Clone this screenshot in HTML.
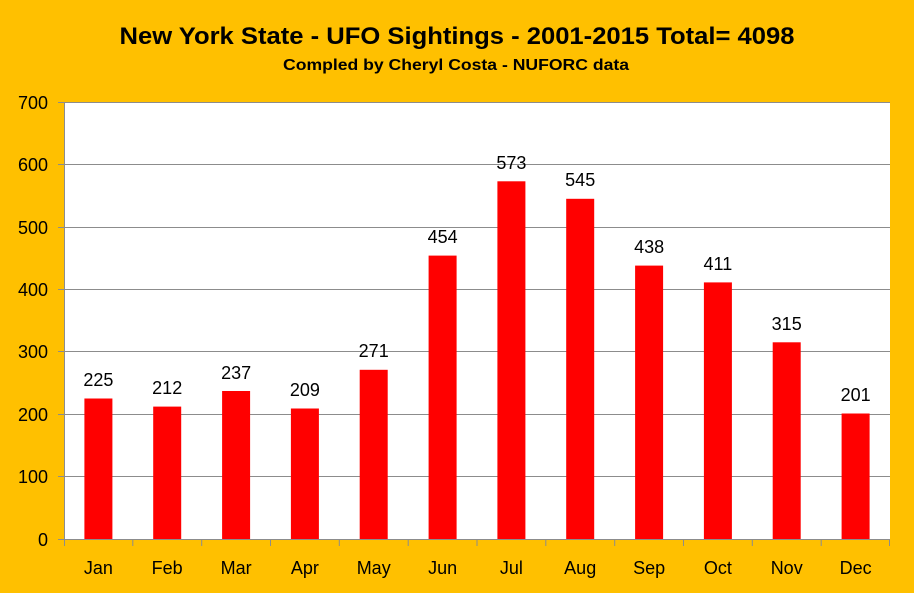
<!DOCTYPE html>
<html><head><style>html,body{margin:0;padding:0;background:#FFC000;}svg{display:block}</style></head>
<body>
<svg width="914" height="593" xmlns="http://www.w3.org/2000/svg" font-family="'Liberation Sans', sans-serif">
<rect width="914" height="593" fill="#FFC000"/>
<text x="457" y="44" text-anchor="middle" font-size="24" font-weight="bold" textLength="675" lengthAdjust="spacingAndGlyphs">New York State - UFO Sightings - 2001-2015  Total= 4098</text>
<text x="456" y="70" text-anchor="middle" font-size="16" font-weight="bold" textLength="346" lengthAdjust="spacingAndGlyphs">Compled by Cheryl Costa - NUFORC data</text>
<rect x="64" y="102" width="826" height="437" fill="#fff"/>
<g stroke="#8c8c8c" stroke-width="1">
<line x1="58" y1="102.5" x2="890" y2="102.5"/>
<line x1="58" y1="164.5" x2="890" y2="164.5"/>
<line x1="58" y1="227.5" x2="890" y2="227.5"/>
<line x1="58" y1="289.5" x2="890" y2="289.5"/>
<line x1="58" y1="351.5" x2="890" y2="351.5"/>
<line x1="58" y1="414.5" x2="890" y2="414.5"/>
<line x1="58" y1="476.5" x2="890" y2="476.5"/>
<line x1="64.5" y1="102" x2="64.5" y2="546"/>
</g>
<g fill="#FF0000">
<rect x="84.4" y="398.5" width="28" height="140.5"/>
<rect x="153.2" y="406.6" width="28" height="132.4"/>
<rect x="222.1" y="391" width="28" height="148"/>
<rect x="290.9" y="408.5" width="28" height="130.5"/>
<rect x="359.7" y="369.8" width="28" height="169.2"/>
<rect x="428.6" y="255.6" width="28" height="283.4"/>
<rect x="497.4" y="181.3" width="28" height="357.7"/>
<rect x="566.2" y="198.8" width="28" height="340.2"/>
<rect x="635.1" y="265.6" width="28" height="273.4"/>
<rect x="703.9" y="282.4" width="28" height="256.6"/>
<rect x="772.7" y="342.3" width="28" height="196.7"/>
<rect x="841.6" y="413.5" width="28" height="125.5"/>
</g>
<g stroke="#8c8c8c" stroke-width="1">
<line x1="58" y1="539.5" x2="890" y2="539.5"/>
<line x1="132.8" y1="539" x2="132.8" y2="546"/>
<line x1="201.7" y1="539" x2="201.7" y2="546"/>
<line x1="270.5" y1="539" x2="270.5" y2="546"/>
<line x1="339.3" y1="539" x2="339.3" y2="546"/>
<line x1="408.2" y1="539" x2="408.2" y2="546"/>
<line x1="477" y1="539" x2="477" y2="546"/>
<line x1="545.8" y1="539" x2="545.8" y2="546"/>
<line x1="614.7" y1="539" x2="614.7" y2="546"/>
<line x1="683.5" y1="539" x2="683.5" y2="546"/>
<line x1="752.3" y1="539" x2="752.3" y2="546"/>
<line x1="821.2" y1="539" x2="821.2" y2="546"/>
<line x1="889.5" y1="539" x2="889.5" y2="546"/>
</g>
<g font-size="18" text-anchor="end" fill="#000">
<text x="48" y="109">700</text>
<text x="48" y="171">600</text>
<text x="48" y="234">500</text>
<text x="48" y="296">400</text>
<text x="48" y="358">300</text>
<text x="48" y="421">200</text>
<text x="48" y="483">100</text>
<text x="48" y="546">0</text>
</g>
<g font-size="18" text-anchor="middle" fill="#000">
<text x="98.4" y="574">Jan</text>
<text x="167.2" y="574">Feb</text>
<text x="236.1" y="574">Mar</text>
<text x="304.9" y="574">Apr</text>
<text x="373.7" y="574">May</text>
<text x="442.6" y="574">Jun</text>
<text x="511.4" y="574">Jul</text>
<text x="580.2" y="574">Aug</text>
<text x="649.1" y="574">Sep</text>
<text x="717.9" y="574">Oct</text>
<text x="786.7" y="574">Nov</text>
<text x="855.6" y="574">Dec</text>
</g>
<g font-size="18" text-anchor="middle" fill="#000">
<text x="98.4" y="386">225</text>
<text x="167.2" y="394">212</text>
<text x="236.1" y="379">237</text>
<text x="304.9" y="396">209</text>
<text x="373.7" y="357">271</text>
<text x="442.6" y="243">454</text>
<text x="511.4" y="169">573</text>
<text x="580.2" y="186">545</text>
<text x="649.1" y="253">438</text>
<text x="717.9" y="270">411</text>
<text x="786.7" y="330">315</text>
<text x="855.6" y="401">201</text>
</g>
</svg>
</body></html>
